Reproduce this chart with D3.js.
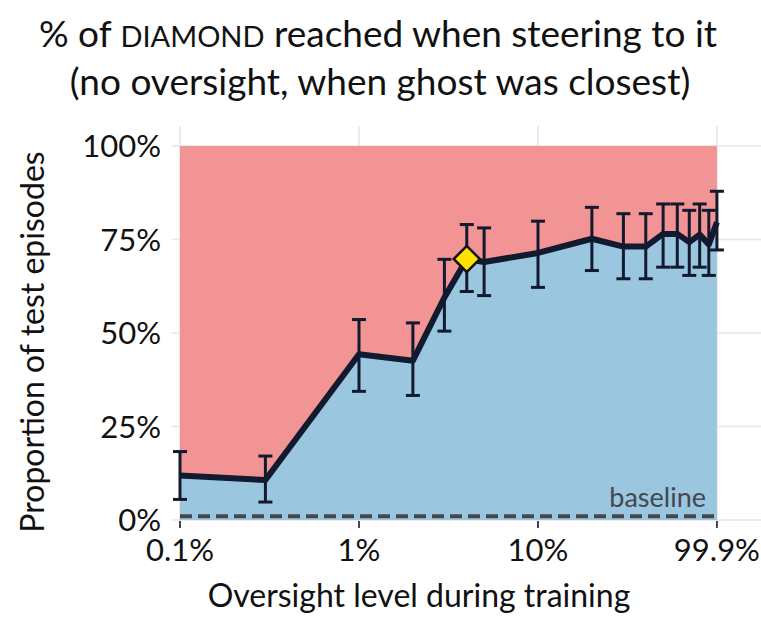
<!DOCTYPE html>
<html>
<head>
<meta charset="utf-8">
<script src="https://cdn.jsdelivr.net/npm/d3@7"></script>
<style>
  body { margin: 0; background: #fff; }
  svg { font-family: Lato, "Open Sans", sans-serif; }
</style>
</head>
<body>
<svg id="chart" width="761" height="622"></svg>
<script>
// oversight levels (%) during training
const oversight = [0.1, 0.3, 1, 2, 3, 4, 5, 10, 20, 30, 40, 50, 60, 70, 80, 90, 99.9];
// % of diamond reached
const reached = [11.9, 10.7, 44.3, 42.6, 59.5, 69.8, 69.0, 71.4, 75.2, 73.1, 73.1, 76.5, 76.5, 74.3, 76.3, 73.7, 79.6];
const errLow = [5.5, 4.8, 34.4, 33.3, 50.5, 61.1, 60.0, 62.2, 66.7, 64.5, 64.5, 67.6, 67.6, 65.4, 67.6, 65.4, 72.2];
const errHigh = [18.3, 17.1, 53.6, 52.7, 69.7, 79.0, 78.1, 79.9, 83.6, 81.9, 81.9, 84.5, 84.5, 82.8, 84.5, 82.8, 87.9];
const highlight = 4;
const baseline = 1.0;
const xTicks = [0.1, 1, 10, 99.9];
const xTickLabels = ["0.1%", "1%", "10%", "99.9%"];
const yTicks = [0, 25, 50, 75, 100];

const svg = d3.select("#chart");

const x = d3.scaleLog().domain([0.1, 100]).range([180, 717]);
const y = d3.scaleLinear().domain([0, 100]).range([520, 146]);

const pts = oversight.map((o, i) => ({o, v: reached[i], lo: errLow[i], hi: errHigh[i]}));

// grid
const grid = svg.append("g").attr("stroke", "#e6e6e6").attr("stroke-width", 1.5);
grid.selectAll(".vg").data(xTicks).join("line")
    .attr("x1", d => x(d)).attr("x2", d => x(d))
    .attr("y1", 126).attr("y2", 521);
grid.selectAll(".hg").data(yTicks).join("line")
    .attr("x1", 172).attr("x2", 761)
    .attr("y1", d => y(d)).attr("y2", d => y(d));

// red area (failure) over whole range, blue area below line
svg.append("path")
    .datum(pts)
    .attr("fill", "#f29394")
    .attr("d", d3.area().x(d => x(d.o)).y0(y(100)).y1(d => y(d.v)));

svg.append("path")
    .datum(pts)
    .attr("fill", "#9ac6e0")
    .attr("d", d3.area().x(d => x(d.o)).y0(y(0)).y1(d => y(d.v)));

// baseline
svg.append("line")
    .attr("x1", x(0.1)).attr("x2", x(99.9))
    .attr("y1", y(baseline)).attr("y2", y(baseline))
    .attr("stroke", "#45474d").attr("stroke-width", 4)
    .attr("stroke-dasharray", "12,6");

svg.append("text")
    .attr("x", 706).attr("y", y(baseline) - 9)
    .attr("text-anchor", "end")
    .attr("font-size", 27).attr("fill", "#45474d")
    .text("baseline");

// x axis ticks
svg.append("g").selectAll("line").data(xTicks).join("line")
    .attr("x1", d => x(d)).attr("x2", d => x(d))
    .attr("y1", 521).attr("y2", 528)
    .attr("stroke", "#45474d").attr("stroke-width", 2);

svg.append("g").selectAll("text").data(xTicks).join("text")
    .attr("x", d => x(d)).attr("y", 561)
    .attr("text-anchor", "middle")
    .attr("font-size", 31).attr("fill", "#111")
    .text((d, i) => xTickLabels[i]);

svg.append("g").selectAll("text").data(yTicks).join("text")
    .attr("x", 161).attr("y", d => y(d) + 11)
    .attr("text-anchor", "end")
    .attr("font-size", 31).attr("fill", "#111")
    .text(d => d + "%");

// error bars
const eb = svg.append("g").attr("stroke", "#111a2e").attr("stroke-width", 3);
eb.selectAll(".v").data(pts).join("line")
    .attr("x1", d => x(d.o)).attr("x2", d => x(d.o))
    .attr("y1", d => y(d.lo)).attr("y2", d => y(d.hi));
eb.selectAll(".t").data(pts).join("line")
    .attr("x1", d => x(d.o) - 7).attr("x2", d => x(d.o) + 7)
    .attr("y1", d => y(d.hi)).attr("y2", d => y(d.hi));
eb.selectAll(".b").data(pts).join("line")
    .attr("x1", d => x(d.o) - 7).attr("x2", d => x(d.o) + 7)
    .attr("y1", d => y(d.lo)).attr("y2", d => y(d.lo));

// main line
svg.append("path")
    .datum(pts)
    .attr("fill", "none")
    .attr("stroke", "#111a2e").attr("stroke-width", 6)
    .attr("stroke-linejoin", "round")
    .attr("d", d3.line().x(d => x(d.o)).y(d => y(d.v)));

// highlighted point
const hp = pts.find(d => d.o === highlight);
svg.append("path")
    .attr("d", d3.symbol(d3.symbolSquare, 340)())
    .attr("transform", `translate(${x(hp.o)},${y(hp.v)}) rotate(45)`)
    .attr("fill", "#ffe100").attr("stroke", "#111").attr("stroke-width", 2.5);

// titles
const title = svg.append("text")
    .attr("x", 378).attr("y", 47)
    .attr("text-anchor", "middle")
    .attr("font-size", 37).attr("fill", "#111");
title.append("tspan").text("% of ");
title.append("tspan").attr("font-size", 29).text("DIAMOND");
title.append("tspan").text(" reached when steering to it");

svg.append("text")
    .attr("x", 380).attr("y", 95)
    .attr("text-anchor", "middle")
    .attr("font-size", 37).attr("fill", "#111")
    .text("(no oversight, when ghost was closest)");

svg.append("text")
    .attr("x", 419).attr("y", 607)
    .attr("text-anchor", "middle")
    .attr("font-size", 32).attr("fill", "#111")
    .text("Oversight level during training");

svg.append("text")
    .attr("transform", "translate(44,342) rotate(-90)")
    .attr("text-anchor", "middle")
    .attr("font-size", 32).attr("fill", "#111")
    .text("Proportion of test episodes");
</script>
</body>
</html>
